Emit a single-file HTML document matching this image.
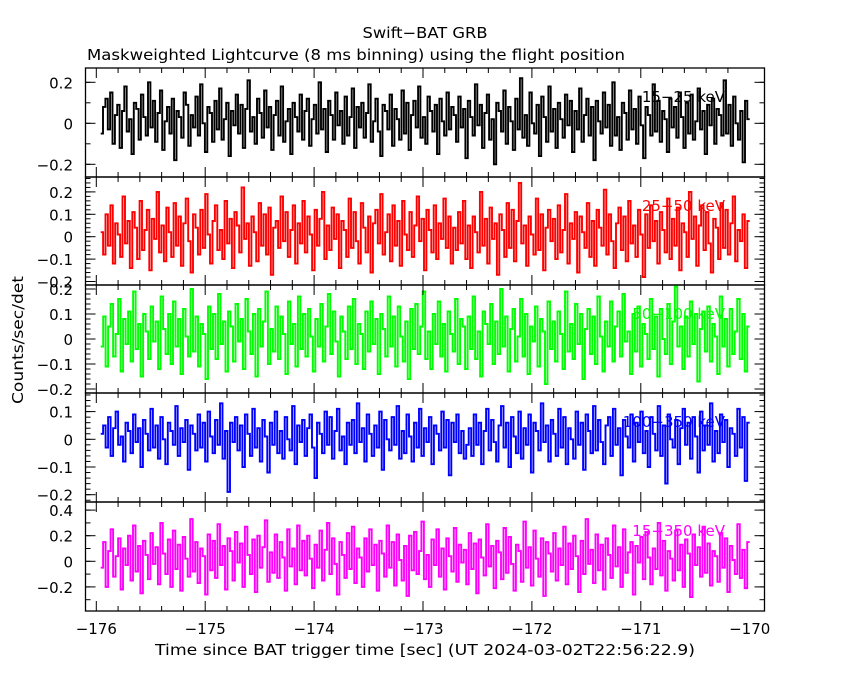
<!DOCTYPE html>
<html><head><meta charset="utf-8"><style>
body{margin:0;background:#fff;}
svg{display:block;font-family:"DejaVu Sans","Liberation Sans",sans-serif;}
text{font-size:15px;}
</style></head><body>
<svg id="chart" width="850" height="680" xmlns="http://www.w3.org/2000/svg">
<rect width="850" height="680" fill="#fff"/>
<text x="425" y="38" text-anchor="middle" textLength="125" lengthAdjust="spacingAndGlyphs">Swift−BAT GRB</text>
<text x="87" y="60" textLength="538" lengthAdjust="spacingAndGlyphs">Maskweighted Lightcurve (8 ms binning) using the flight position</text>
<text transform="translate(23,340) rotate(-90)" text-anchor="middle" textLength="128" lengthAdjust="spacingAndGlyphs">Counts/sec/det</text>
<text x="155" y="655" textLength="540" lengthAdjust="spacingAndGlyphs">Time since BAT trigger time [sec] (UT 2024-03-02T22:56:22.9)</text>
<g id="plots"></g>
</svg>
<script>
const xTicks = [-176,-175,-174,-173,-172,-171,-170];
const xTickLabels = ["−176","−175","−174","−173","−172","−171","−170"];
const tStart = -175.96, tEnd = -170.0;
const bands = ["15−25 keV","25−50 keV","50−100 keV","100−350 keV","15−350 keV"];
const colors = ["#000","#f00","#0f0","#00f","#f0f"];
const s1 = [-5,8,12,-3,15,-10,4,9,-12,6,18,-4,2,-15,10,7,-8,14,3,-6,20,-2,11,-9,5,16,-13,1,8,-5,12,-18,6,3,-7,15,9,-11,4,-2,13,-6,19,0,-14,8,5,-9,11,-3,17,-8,2,10,-16,6,-1,14,-5,9,-12,7,21,-4,3,-10,12,5,-7,16,-2,8,-13,4,11,-6,18,-9,1,7,-15,10,3,-4,14,-8,6,12,-11,2,9,-5,20,-3,7,-14,11,4,-8,15,-1,6,-10,13,-6,3,17,-12,8,-2,10,-7,5,19,-9,1,12,-4,-16,9,6,-3,14,-11,7,2,-8,16,-5,10,-13,4,11,-2,18,-7,3,-10,13,6,-4,9,-15,12,1,-6,15,-3,8,
 4,-9,13,-2,7,-17,11,3,-6,19,-1,9,-12,5,14,-8,2,-20,10,6,-4,16,-10,8,1,-13,12,-3,22,-7,4,-11,15,0,-5,9,-16,13,3,-9,18,-4,7,-12,10,2,-7,14,-1,11,-14,6,-3,17,-9,4,12,-6,8,-18,11,1,-5,15,-2,9,-11,20,-6,3,-13,10,5,-8,16,-3,7,-10,13,-1,-17,8,4,-6,19,-4,11,-9,6,2,-14,12,-2,8,-7,15,3,-12,10,-5,14,-8,1,17,-3,6,-15,9,-1,12,-10,7,4,-6,21,-5,9,-11,13,0,-8,6,-19,11,2];
const s2 = [2,-8,10,-4,14,-12,6,1,-9,18,-3,7,-14,11,4,-10,16,-6,3,12,-15,8,-1,20,-7,5,-11,13,2,-9,15,-4,9,-13,6,17,-2,-16,10,4,-8,12,-5,19,1,-12,7,14,-6,3,-10,16,-3,8,-14,11,5,-7,22,-1,6,-13,9,2,-11,15,-4,10,-8,13,-17,4,7,-5,18,-2,11,-9,3,14,-12,6,-3,16,-7,9,1,-15,12,-4,8,20,-10,5,-6,13,-1,10,-14,7,3,-9,17,-5,11,-2,-12,15,4,-7,9,-16,6,12,-3,19,-8,2,10,-11,14,-4,7,-13,16,1,-6,11,-9,5,18,-2,8,-15,12,3,-7,14,-10,6,-1,17,-5,9,-12,4,
 -6,11,-3,16,-10,5,-14,9,2,-7,20,-4,8,-12,13,-1,6,-17,10,3,-9,15,-5,12,-11,7,24,-3,5,-13,9,1,-8,17,-6,10,-15,4,12,-2,8,-10,14,-7,3,19,-12,6,-1,11,-16,9,2,-5,15,-9,7,-13,12,4,-4,21,-8,10,-2,-14,6,13,-6,9,-11,16,-3,5,-9,12,1,-18,10,-5,14,-2,7,-12,11,3,-7,17,-10,8,-4,13,-15,6,2,-9,20,-1,9,-13,5,14,-6,11,-3,-16,8,4,-10,15,-5,12,-8,6,18,-11,3,-2,10,-14,7];
const s3 = [-3,9,-11,5,14,-7,2,16,-13,8,-2,11,-9,19,-4,6,-15,10,3,-8,13,-1,7,-12,17,4,-6,10,-10,15,-3,8,-14,12,1,-7,20,-5,9,-11,6,2,-16,13,-4,10,-8,18,-2,7,-13,11,5,-9,14,-1,8,-12,16,3,-6,10,-15,12,-3,7,19,-10,4,-5,13,-8,9,2,-14,15,-2,6,-11,17,-4,10,-7,12,1,-13,8,-3,14,-9,5,18,-6,11,-1,-15,9,3,-8,13,-4,16,-10,6,2,-12,11,-5,15,-2,8,-14,10,4,-7,17,-3,9,-11,13,1,-9,7,-16,12,-4,14,-6,5,19,-8,3,-12,10,-2,15,-7,6,-13,11,2,-5,16,-10,8,
 5,-12,9,-4,17,-8,3,-15,11,6,-2,14,-10,7,-6,20,-3,9,-13,4,12,-9,1,16,-7,10,-14,5,-1,13,-11,8,3,-18,15,-4,7,-9,11,2,-12,19,-5,6,-8,14,-2,10,-16,4,12,-6,9,-10,17,1,-13,7,-3,15,-9,5,11,-7,18,-1,3,-14,10,-5,13,-11,6,2,-8,16,-4,9,-15,12,0,-6,14,-10,7,21,-3,5,-12,9,-7,15,-2,10,-17,4,11,-5,13,-9,6,1,-14,17,-3,8,-11,12,-6,3,16,-8,10,-13,5];
const s4 = [2,5,-3,8,-6,4,10,-2,1,-8,6,3,-5,9,-1,4,-10,7,2,-4,11,-3,5,-7,8,0,-9,6,3,-2,12,-6,4,-1,7,-11,5,2,-4,9,-3,6,-8,10,1,-5,7,-2,13,-7,3,-19,6,-1,8,-4,5,-10,9,2,-6,11,-3,4,-8,7,1,-12,6,-2,10,-5,3,-7,8,0,-4,12,-9,5,-1,7,-6,4,9,-3,-14,6,2,-5,10,-2,8,-7,3,11,-4,1,-9,6,-2,7,-5,13,-1,4,-8,9,2,-6,5,-3,10,-11,7,0,-4,8,-2,12,-7,3,-5,9,1,-8,6,-3,11,-6,4,-1,8,-9,5,2,-4,10,-3,7,-13,6,-1,9,-5,3,-7,-2,
 4,-6,9,-2,6,-9,3,11,-4,7,-1,-8,5,12,-3,6,-10,8,1,-5,10,-7,4,-2,9,-12,6,3,-4,13,-1,5,-8,7,2,-6,11,-3,8,-9,4,0,-7,10,-2,6,-11,9,3,-5,12,-4,7,-1,-9,5,8,-6,11,-2,4,-13,7,1,-3,9,-8,6,-1,10,-5,3,-10,8,2,-4,12,-6,5,-16,9,0,-3,7,-9,4,11,-2,6,-7,8,1,-12,10,-4,5,-2,13,-8,3,-5,9,-1,7,-10,4,2,-6,11,-3,8,-15,6];
const s5 = [-5,15,-20,8,25,-12,4,18,-22,10,-3,20,-15,28,-8,12,-25,16,5,-14,22,-2,11,-18,30,6,-10,17,-20,24,-6,13,-23,19,2,-12,33,-8,15,-17,10,4,-26,21,-7,16,-13,29,-3,12,-22,18,8,-15,23,-1,14,-20,27,5,-10,17,-24,20,-5,11,32,-16,7,-9,21,-13,15,3,-23,25,-4,10,-18,28,-7,16,-11,20,2,-21,13,-5,24,-15,9,30,-10,18,-2,-26,15,5,-13,22,-6,27,-17,10,3,-20,18,-8,25,-3,13,-23,16,6,-12,28,-5,15,-19,21,1,-15,12,-27,20,-7,23,-10,8,31,-14,5,-20,17,-3,25,-12,10,-22,18,4,-8,26,-16,13,-1,
 9,-18,22,-6,14,-25,17,3,-11,29,-4,12,-21,16,7,-14,26,-9,19,-2,-23,13,8,-16,31,-5,11,-19,24,2,-12,18,-27,15,6,-8,22,-15,10,-3,27,-18,14,-6,20,4,-24,16,-10,33,-2,9,-17,21,-7,13,-22,18,5,-13,28,-4,11,-20,25,-9,7,15,-26,12,-1,19,-14,23,3,-18,10,-6,30,-11,16,-23,8,2,-15,24,-7,13,-20,17,6,-28,21,-3,11,-12,27,-9,14,-19,8,4,-16,22,-5,18,-24,12,1,-10,29,-13,9,-21,15];
const series = [s1,s2,s3,s4,s5];
const scale = 0.01;
const yTicks = [[-0.2,0,0.2],[-0.2,-0.1,0,0.1,0.2],[-0.2,-0.1,0,0.1,0.2],[-0.2,-0.1,0,0.1],[-0.2,0,0.2,0.4]];
const yMinor = [0.1,0.02,0.02,0.02,0.1];
const panels = [
 {top:68,bot:177,y0:123.3,k:205},
 {top:177,bot:285,y0:236.7,k:224},
 {top:285,bot:393,y0:339,k:250},
 {top:393,bot:502,y0:439.3,k:277},
 {top:502,bot:611,y0:561.3,k:128}];
const L=85.5,R=764.5;
const xs = t => 96.3 + (t+176)*108.9;
const NS="http://www.w3.org/2000/svg";
const g=document.getElementById('plots');
function mk(tag,attrs,parent){const e=document.createElementNS(NS,tag);for(const a in attrs)e.setAttribute(a,attrs[a]);(parent||g).appendChild(e);return e;}
panels.forEach((p,i)=>{
 const pg=mk('g',{});
 
 
 const ys=v=>p.y0-v*p.k;
 const d=series[i]; const n=d.length; const w=(tEnd-tStart)/n;
 let path='';
 d.forEach((v,j)=>{const x1=xs(tStart+j*w),x2=xs(tStart+(j+1)*w);let y=ys(v*scale);y=Math.max(p.top,Math.min(p.bot,y));path+=(j?'L':'M')+x1.toFixed(1)+' '+y.toFixed(1)+'L'+x2.toFixed(1)+' '+y.toFixed(1);});
 const ln=mk('path',{d:path,fill:'none',stroke:colors[i],'stroke-width':1.9},pg);
 
 
 const fr=mk('rect',{x:L,y:p.top,width:R-L,height:p.bot-p.top,fill:'none',stroke:'#000','stroke-width':1.3},pg);
 
 
 for(let t=-176;t<=-170.001;t+=0.2){const x=xs(t);const maj=Math.abs(t-Math.round(t))<0.01;const len=maj?10:5;
  mk('line',{x1:x,x2:x,y1:p.top,y2:p.top+len,stroke:'#000'},pg);mk('line',{x1:x,x2:x,y1:p.bot,y2:p.bot-len,stroke:'#000'},pg);}
 const lo=(p.y0-p.bot)/p.k, hi=(p.y0-p.top)/p.k;
 for(let v=Math.ceil(lo/yMinor[i])*yMinor[i];v<=hi;v+=yMinor[i]){const y=ys(v);
  mk('line',{x1:L,x2:L+5,y1:y,y2:y,stroke:'#000'},pg);mk('line',{x1:R,x2:R-5,y1:y,y2:y,stroke:'#000'},pg);}
 yTicks[i].forEach(v=>{const y=ys(v);mk('line',{x1:L,x2:L+10,y1:y,y2:y,stroke:'#000'},pg);mk('line',{x1:R,x2:R-10,y1:y,y2:y,stroke:'#000'},pg);
  const tx=mk('text',{x:73,y:y+6,'text-anchor':'end'},pg);tx.textContent=(v<0?'−':'')+String(Math.abs(v));
  
  });
 const lb=mk('text',{x:725,y:p.top+34,'text-anchor':'end',fill:colors[i]},pg);lb.textContent=bands[i];
 
 
});
xTicks.forEach((t,j)=>{const tx=mk('text',{x:xs(t),y:634,'text-anchor':'middle'});tx.textContent=xTickLabels[j];
 
 });
</script>
</body></html>
